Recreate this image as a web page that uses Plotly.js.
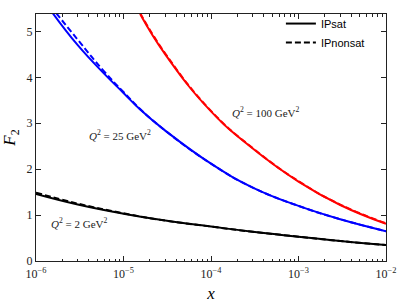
<!DOCTYPE html>
<html>
<head>
<meta charset="utf-8">
<script src="https://cdn.plot.ly/plotly-3.0.1.min.js"></script>
<style>html,body{margin:0;padding:0;background:#fff;}#chart{width:407px;height:305px;}</style>
</head>
<body>
<div id="chart"></div>
<script>
// Q^2 = 2 GeV^2
const xQ2 = [1e-6, 3e-6, 1e-5, 3e-5, 1e-4, 3e-4, 1e-3, 3e-3, 1e-2];
const satQ2 = [1.46, 1.23, 1.03, 0.88, 0.75, 0.635, 0.53, 0.435, 0.35];
const nonsatQ2 = [1.49, 1.25, 1.04, 0.88, 0.75, 0.635, 0.53, 0.435, 0.35];
// Q^2 = 25 GeV^2
const xQ25 = [1.55e-6, 3e-6, 6e-6, 1e-5, 1.55e-5, 3e-5, 1e-4, 3e-4, 1e-3, 3e-3, 1e-2];
const satQ25 = [5.40, 4.70, 4.08, 3.66, 3.30, 2.84, 2.12, 1.60, 1.20, 0.91, 0.65];
const xQ25n = [1.7e-6, 3e-6, 6e-6, 1e-5, 1.55e-5, 3e-5, 1e-4, 3e-4, 1e-3, 3e-3, 1e-2];
const nonsatQ25 = [5.40, 4.82, 4.13, 3.68, 3.31, 2.84, 2.12, 1.60, 1.20, 0.91, 0.65];
// Q^2 = 100 GeV^2
const xQ100 = [1.55e-5, 3e-5, 1e-4, 3e-4, 1e-3, 3e-3, 1e-2];
const satQ100 = [5.38, 4.50, 3.26, 2.45, 1.73, 1.22, 0.81];
const nonsatQ100 = [5.40, 4.52, 3.27, 2.46, 1.74, 1.23, 0.82];
// axis ticks
const xTickVals = [1e-6, 1e-5, 1e-4, 1e-3, 1e-2];
const xTickText = ['10<sup>\u22126</sup>', '10<sup>\u22125</sup>', '10<sup>\u22124</sup>', '10<sup>\u22123</sup>', '10<sup>\u22122</sup>'];
const yTickVals = [0, 1, 2, 3, 4, 5];
const seriesLabels = ['IPsat', 'IPnonsat'];
const annotTexts = ['<i>Q</i><sup>2</sup> = 2 GeV<sup>2</sup>', '<i>Q</i><sup>2</sup> = 25 GeV<sup>2</sup>', '<i>Q</i><sup>2</sup> = 100 GeV<sup>2</sup>'];

const W = 2;
function tr(x, y, color, dash, name) {
  return {x: x, y: y, type: 'scatter', mode: 'lines', name: name, showlegend: false,
    line: {color: color, width: W, dash: dash, shape: 'spline', smoothing: 1.3}, hoverinfo: 'skip'};
}
const solid = 'solid', dashed = '6px,3px';
const data = [
  tr(xQ2, satQ2, '#000000', solid, seriesLabels[0]),
  tr(xQ2, nonsatQ2, '#000000', dashed, seriesLabels[1]),
  tr(xQ25, satQ25, '#0000ff', solid, seriesLabels[0]),
  tr(xQ25n, nonsatQ25, '#0000ff', dashed, seriesLabels[1]),
  tr(xQ100, satQ100, '#ff0000', solid, seriesLabels[0]),
  tr(xQ100, nonsatQ100, '#ff0000', dashed, seriesLabels[1]),
  {x: [null], y: [null], type: 'scatter', mode: 'lines', name: seriesLabels[0], line: {color: '#000', width: W}},
  {x: [null], y: [null], type: 'scatter', mode: 'lines', name: seriesLabels[1], line: {color: '#000', width: W, dash: dashed}}
];

const serif = 'Liberation Serif, DejaVu Serif, serif';
const axisCommon = {showline: true, linecolor: '#222', linewidth: 1, mirror: 'allticks', ticks: 'inside',
  ticklen: 5, tickcolor: '#222', showgrid: false, zeroline: false,
  tickfont: {family: serif, size: 12, color: '#222'}};
const layout = {
  width: 407, height: 305,
  margin: {l: 36, r: 21, t: 9, b: 44},
  paper_bgcolor: '#fff', plot_bgcolor: '#fff',
  showlegend: true,
  legend: {x: 0.954, xanchor: 'right', y: 1.02, yanchor: 'top', bgcolor: 'rgba(0,0,0,0)',
    font: {family: 'Liberation Sans, Arial, sans-serif', size: 11, color: '#000'},
    tracegroupgap: 0, itemwidth: 30},
  xaxis: Object.assign({}, axisCommon, {type: 'log', range: [-6, -2], tickmode: 'array',
    tickvals: xTickVals, ticktext: xTickText, ticklabelstandoff: 2,
    minor: {ticks: 'inside', ticklen: 2.5, dtick: 'D1', tickcolor: '#222', showgrid: false},
    title: {text: '<i>x</i>', font: {family: serif, size: 17, color: '#000'}, standoff: 6}}),
  yaxis: Object.assign({}, axisCommon, {range: [0, 5.38], tickmode: 'array', tickvals: yTickVals,
    title: {text: '<i>F</i><sub>2</sub>', font: {family: serif, size: 17, color: '#000'}, standoff: 6}}),
  annotations: [
    {xref: 'paper', yref: 'paper', x: 0.123, y: 0.155, text: annotTexts[0]},
    {xref: 'paper', yref: 'paper', x: 0.24, y: 0.51, text: annotTexts[1]},
    {xref: 'paper', yref: 'paper', x: 0.657, y: 0.605, text: annotTexts[2]}
  ].map(a => Object.assign(a, {showarrow: false, xanchor: 'center', yanchor: 'middle',
    font: {family: serif, size: 11, color: '#222'}}))
};
Plotly.newPlot('chart', data, layout, {displayModeBar: false, staticPlot: true});
</script>
</body>
</html>
